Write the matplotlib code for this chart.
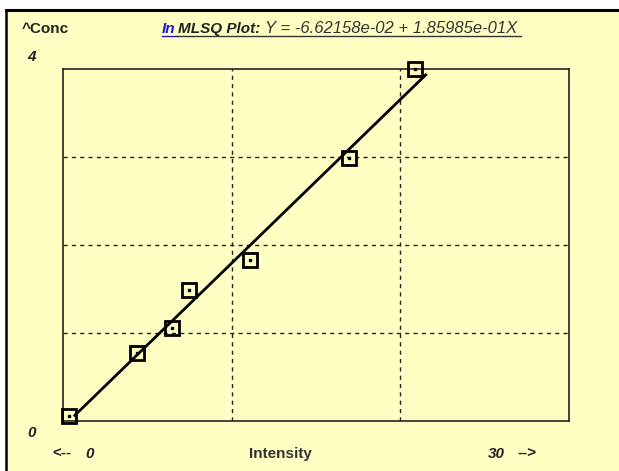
import matplotlib
matplotlib.use("Agg")
import matplotlib.pyplot as plt
from matplotlib.patches import Rectangle
from matplotlib.lines import Line2D

# data
intensity = [0.36, 4.39, 6.46, 7.47, 11.09, 16.96, 20.87]
conc = [0.06, 0.77, 1.06, 1.49, 1.83, 2.99, 4.00]

# fitted line  Y = a + bX
a = -6.62158e-02
b = 1.85985e-01
fit_x = [0.7, 21.5]
fit_y = [a + b * x for x in fit_x]

W, H = 619, 471
bg = "#ffffc4"

fig = plt.figure(figsize=(W / 100, H / 100), dpi=100)
fig.patch.set_facecolor("white")

def fx(px):
    return px / W

def fy(py):
    return 1 - py / H

# yellow panel with black top / left border
fig.patches.append(Rectangle((fx(6), 0), 1, fy(10), transform=fig.transFigure,
                             facecolor=bg, edgecolor="none", zorder=-1))
fig.add_artist(Line2D([fx(6), 1], [fy(10), fy(10)], transform=fig.transFigure,
                      color="black", lw=2.2))
fig.add_artist(Line2D([fx(6), fx(6)], [0, fy(10)], transform=fig.transFigure,
                      color="black", lw=1.8))

ax = fig.add_axes([fx(63), fy(421), fx(569) - fx(63), fy(69) - fy(421)])
ax.set_zorder(1)
ax.set_facecolor(bg)
ax.set_xlim(0, 30)
ax.set_ylim(0, 4)
ax.set_xticks([10, 20])
ax.set_yticks([1, 2, 3])
ax.tick_params(length=0, labelbottom=False, labelleft=False)
ax.grid(True, color="#222222", linestyle=(0, (3, 3)), lw=1)
for s in ax.spines.values():
    s.set_color("#222222")
    s.set_linewidth(1.2)

ax.plot(fit_x, fit_y, color="black", lw=2, zorder=3)
ax.plot(intensity, conc, linestyle="none", marker="s", markersize=9.5,
        markerfacecolor="none", markeredgecolor="black", markeredgewidth=2,
        clip_on=False, zorder=4)
ax.plot(intensity, conc, linestyle="none", marker="s", markersize=1.8,
        color="black", clip_on=False, zorder=5)

font = "Liberation Sans"

# labels
fig.text(fx(22), fy(33), "^Conc", fontsize=11, family=font, weight="bold",
         color="#222222", ha="left", va="baseline")
fig.text(fx(27), fy(61), "4", fontsize=11, family=font, weight="bold",
         style="italic", color="#222222", ha="left", va="baseline")
fig.text(fx(27), fy(437), "0", fontsize=11, family=font, weight="bold",
         style="italic", color="#222222", ha="left", va="baseline")
fig.text(fx(52), fy(458), "<--", fontsize=11, family=font, weight="bold",
         color="#222222", ha="left", va="baseline")
fig.text(fx(85), fy(458), "0", fontsize=11, family=font, weight="bold",
         style="italic", color="#222222", ha="left", va="baseline")
fig.text(fx(280), fy(458), "Intensity", fontsize=11, family=font, weight="bold",
         color="#333333", ha="center", va="baseline")
fig.text(fx(488), fy(458), "30", fontsize=11, family=font, weight="bold",
         style="italic", color="#222222", ha="left", va="baseline")
fig.text(fx(517), fy(458), "-->", fontsize=11, family=font, weight="bold",
         color="#222222", ha="left", va="baseline")

# title
fig.text(fx(162), fy(33), "In", fontsize=11, family=font, weight="bold",
         style="italic", color="#1a1acc", ha="left", va="baseline")
fig.text(fx(178), fy(33), "MLSQ Plot:", fontsize=11, family=font, weight="bold",
         style="italic", color="#222222", ha="left", va="baseline")
fig.text(fx(265), fy(33), "Y = -6.62158e-02 + 1.85985e-01X", fontsize=12,
         family=font, style="italic", color="#333333", ha="left", va="baseline")
fig.add_artist(Line2D([fx(162), fx(177)], [fy(35.5), fy(35.5)], transform=fig.transFigure,
                      color="#1a1acc", lw=1))
fig.add_artist(Line2D([fx(177), fx(521)], [fy(35.5), fy(35.5)], transform=fig.transFigure,
                      color="#333333", lw=1))

fig.savefig("out.png", dpi=100, facecolor=fig.get_facecolor())
